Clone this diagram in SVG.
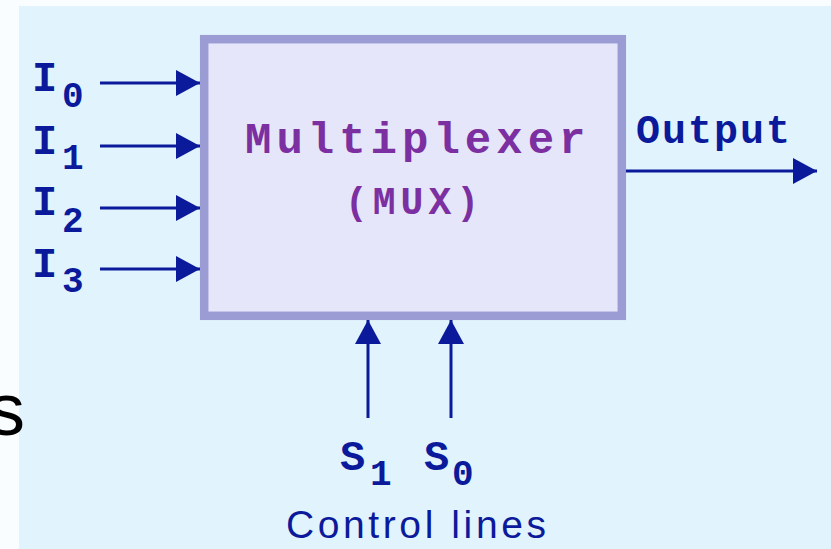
<svg xmlns="http://www.w3.org/2000/svg" width="831" height="549" viewBox="0 0 831 549">
<defs>
<style>
.mono{font-family:"Liberation Mono","Courier New",monospace;font-weight:bold;fill:#0B1A9B}
.lbl{font-size:42px}
.sub{font-size:36px}
.title{font-family:"Liberation Mono","Courier New",monospace;font-weight:bold;fill:#7B2FA0}
.wire{stroke:#0B1A9B;stroke-width:3;fill:none}
</style>
<marker id="ah" viewBox="0 0 24 26" refX="24" refY="13" markerWidth="24" markerHeight="26" markerUnits="userSpaceOnUse" orient="auto">
<path d="M0,0 L24,13 L0,26 Z" fill="#0B1A9B"/>
</marker>
</defs>
<rect x="0" y="0" width="831" height="549" fill="#FAFDFF"/>
<rect x="19" y="6" width="812" height="543" fill="#E1F3FD"/>
<text x="-12" y="435" font-family="Liberation Sans, Arial, sans-serif" font-size="74" fill="#000">s</text>
<g id="mux">
<rect x="204.2" y="39.2" width="417.6" height="276.6" fill="#E6E6FA" stroke="#9C9CD4" stroke-width="8.5"/>
<text class="title" x="245" y="153" font-size="44" letter-spacing="5">Multiplexer</text>
<text class="title" x="345" y="214" font-size="38" letter-spacing="5">(MUX)</text>
</g>
<g id="connectors">
<line class="wire" x1="100" y1="83" x2="200" y2="83" marker-end="url(#ah)"/>
<line class="wire" x1="100" y1="146" x2="200" y2="146" marker-end="url(#ah)"/>
<line class="wire" x1="100" y1="208" x2="200" y2="208" marker-end="url(#ah)"/>
<line class="wire" x1="100" y1="269" x2="200" y2="269" marker-end="url(#ah)"/>
<line class="wire" x1="626" y1="171" x2="817" y2="171" marker-end="url(#ah)"/>
<line class="wire" x1="368" y1="418" x2="368" y2="320" marker-end="url(#ah)"/>
<line class="wire" x1="451" y1="418" x2="451" y2="320" marker-end="url(#ah)"/>
</g>
<g id="inputs">
<text class="mono lbl" x="32" y="91">I</text><text class="mono sub" x="62" y="107">0</text>
<text class="mono lbl" x="32" y="154">I</text><text class="mono sub" x="62" y="169">1</text>
<text class="mono lbl" x="32" y="215">I</text><text class="mono sub" x="62" y="232">2</text>
<text class="mono lbl" x="32" y="277">I</text><text class="mono sub" x="62" y="292">3</text>
</g>
<g id="output">
<text class="mono" x="636" y="143" font-size="40" letter-spacing="2">Output</text>
</g>
<g id="controls">
<text class="mono lbl" x="340" y="470">S</text><text class="mono sub" x="370" y="485">1</text>
<text class="mono lbl" x="424" y="470">S</text><text class="mono sub" x="452" y="485">0</text>
<text x="286" y="538" font-family="Liberation Sans, Arial, sans-serif" font-size="39" letter-spacing="3.6" fill="#0B1A9B">Control lines</text>
</g>
</svg>
